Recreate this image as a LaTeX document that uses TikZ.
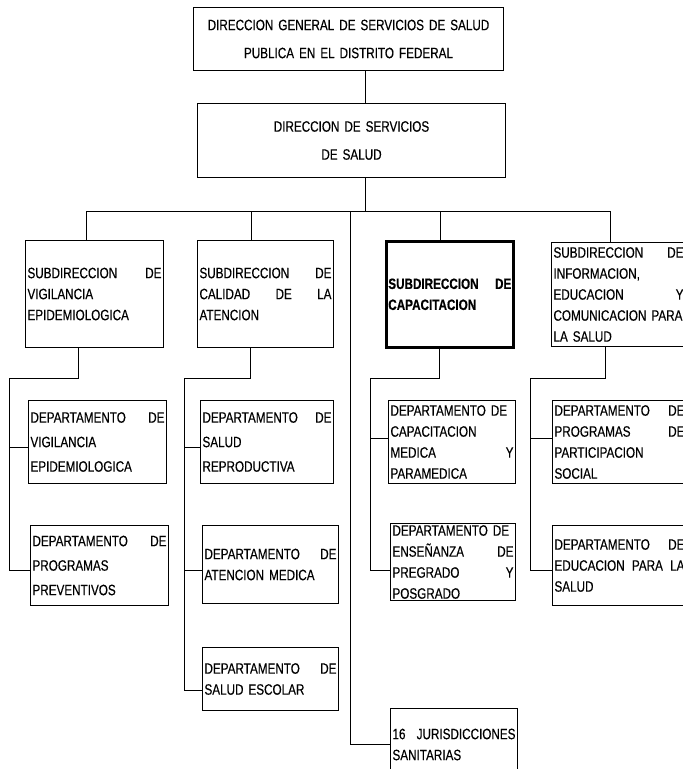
\documentclass[tikz,border=0pt]{standalone}
\usepackage{fontspec}
\setmainfont{Liberation Sans}[FakeStretch=0.78,FakeBold=0.4]
\usetikzlibrary{positioning}

\begin{document}
\begin{tikzpicture}[x=1pt,y=-1pt,
    caja/.style={draw,line width=1pt,anchor=north west,align=left,inner xsep=2pt,inner ysep=0pt,
      font=\fontsize{15}{21}\selectfont},
    holgada/.style={font=\fontsize{15}{24.5}\selectfont},
    titulo/.style={caja,align=center,font=\fontsize{15}{28}\selectfont},
    linea/.style={line width=0.9pt}]
  \useasboundingbox (0,0) rectangle (683,769);

  % direcciones
  \node[titulo,text width=306pt,minimum height=63pt] (dg) at (193,7)
    {DIRECCION GENERAL DE SERVICIOS DE SALUD\\PUBLICA EN EL DISTRITO FEDERAL};
  \node[titulo,text width=304pt,minimum height=74pt] (ds) at (197,103)
    {DIRECCION DE SERVICIOS\\DE SALUD};

  % subdirecciones
  \node[caja,text width=134pt,minimum height=107pt] (s1) at (25,240)
    {SUBDIRECCION \hfill DE\\VIGILANCIA\\EPIDEMIOLOGICA};
  \node[caja,text width=132pt,minimum height=107pt] (s2) at (197,240)
    {SUBDIRECCION \hfill DE\\CALIDAD \hfill DE \hfill LA\\ATENCION};
  \node[caja,line width=2.6pt,text width=123pt,minimum height=106pt,font=\fontsize{15}{21}\selectfont\bfseries] (s3) at (385,240)
    {SUBDIRECCION \hfill DE\\CAPACITACION};
  \node[caja,text width=130pt,minimum height=104pt] (s4) at (551,242)
    {SUBDIRECCION \hfill DE\\INFORMACION,\\EDUCACION \hfill Y\\COMUNICACION PARA\\LA SALUD};

  % departamentos
  \node[caja,holgada,text width=134pt,minimum height=83pt] (d11) at (28,400)
    {DEPARTAMENTO \hfill DE\\VIGILANCIA\\EPIDEMIOLOGICA};
  \node[caja,holgada,text width=134pt,minimum height=80pt] (d12) at (30,525)
    {DEPARTAMENTO \hfill DE\\PROGRAMAS\\PREVENTIVOS};
  \node[caja,holgada,text width=129pt,minimum height=83pt] (d21) at (200,400)
    {DEPARTAMENTO \hfill DE\\SALUD\\REPRODUCTIVA};
  \node[caja,text width=132pt,minimum height=78pt] (d22) at (202,525)
    {DEPARTAMENTO \hfill DE\\ATENCION MEDICA};
  \node[caja,text width=132pt,minimum height=63pt] (d23) at (202,647)
    {DEPARTAMENTO \hfill DE\\SALUD ESCOLAR};
  \node[caja,text width=123pt,minimum height=83pt] (d31) at (388,400)
    {DEPARTAMENTO DE\\CAPACITACION\\MEDICA \hfill Y\\PARAMEDICA};
  \node[caja,text width=121pt,minimum height=77pt] (d32) at (390,523)
    {DEPARTAMENTO DE\\ENSEÑANZA \hfill DE\\PREGRADO \hfill Y\\POSGRADO};
  \node[caja,text width=123pt,minimum height=72pt] (d33) at (390,708)
    {16 \hfill JURISDICCIONES\\SANITARIAS};
  \node[caja,text width=130pt,minimum height=83pt] (d41) at (552,400)
    {DEPARTAMENTO \hfill DE\\PROGRAMAS \hfill DE\\PARTICIPACION\\SOCIAL};
  \node[caja,text width=130pt,minimum height=80pt] (d42) at (552,525)
    {DEPARTAMENTO \hfill DE\\EDUCACION \hfill PARA \hfill LA\\SALUD};

  % lineas de mando
  \coordinate (bus) at (365,211);
  \coordinate (b1) at (86,211);
  \coordinate (b2) at (251,211);
  \coordinate (bj) at (350,211);
  \coordinate (b3) at (440,211);
  \coordinate (b4) at (610,211);
  \draw[linea] (dg.south -| bus) -- (ds.north -| bus)
    (ds.south -| bus) -- (bus)
    (b1) -- (b4)
    (b1) -- (b1 |- s1.north)
    (b2) -- (b2 |- s2.north)
    (b3) -- (b3 |- s3.north)
    (b4) -- (b4 |- s4.north)
    (bj) |- (d33.west);

  \coordinate (r1) at (78,378);  \coordinate (l1) at (9,378);
  \coordinate (r2) at (250,378); \coordinate (l2) at (184,378);
  \coordinate (r3) at (439,378); \coordinate (l3) at (370,378);
  \coordinate (r4) at (605,378); \coordinate (l4) at (530,378);
  % puntos de llegada a los departamentos
  \coordinate (e11) at ([yshift=-5pt]d11.west);
  \coordinate (e12) at ([yshift=-5pt]d12.west);
  \coordinate (e21) at ([yshift=-5pt]d21.west);
  \coordinate (e22) at ([yshift=-6pt]d22.west);
  \coordinate (e23) at ([yshift=-11pt]d23.west);
  \coordinate (e31) at ([yshift=4pt]d31.west);
  \coordinate (e32) at ([yshift=-8pt]d32.west);
  \coordinate (e41) at ([yshift=4pt]d41.west);
  \coordinate (e42) at ([yshift=-5pt]d42.west);
  \draw[linea] (s1.south -| r1) -- (r1) -- (l1) |- (e12)
    (l1 |- e11) -- (e11);
  \draw[linea] (s2.south -| r2) -- (r2) -- (l2) |- (e23)
    (l2 |- e21) -- (e21)
    (l2 |- e22) -- (e22);
  \draw[linea] (s3.south -| r3) -- (r3) -- (l3) |- (e32)
    (l3 |- e31) -- (e31);
  \draw[linea] (s4.south -| r4) -- (r4) -- (l4) |- (e42)
    (l4 |- e41) -- (e41);
\end{tikzpicture}
\end{document}
